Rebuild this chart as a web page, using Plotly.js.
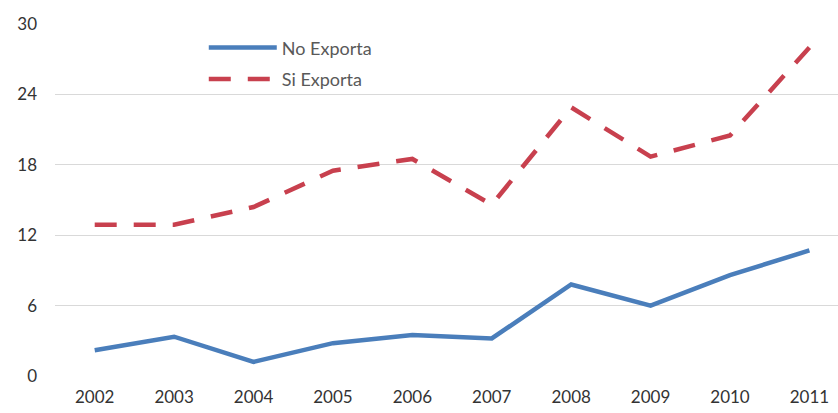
<!DOCTYPE html>
<html>
<head>
<meta charset="utf-8">
<script src="https://cdn.plot.ly/plotly-3.0.1.min.js"></script>
<style>html,body{margin:0;padding:0;background:#fff;}#chart{width:838px;height:413px;}</style>
</head>
<body>
<div id="chart"></div>
<script>
const years = ["2002","2003","2004","2005","2006","2007","2008","2009","2010","2011"];
const noExporta = [2.2, 3.35, 1.2, 2.8, 3.5, 3.2, 7.8, 6.0, 8.6, 10.7];
const siExporta = [12.9, 12.9, 14.4, 17.5, 18.5, 14.6, 22.9, 18.7, 20.5, 28.0];
const yTicks = [0, 6, 12, 18, 24, 30];

const traces = [
  {x: years, y: noExporta, name: "No Exporta", type: "scatter", mode: "lines",
   legendgroup: "a",
   line: {color: "#4A7EBB", width: 4.5}},
  {x: years, y: siExporta, name: "Si Exporta", type: "scatter", mode: "lines",
   legendgroup: "b",
   line: {color: "#C8404E", width: 4.5, dash: "22px,17px"}}
];

const layout = {
  width: 838, height: 413,
  margin: {l: 55, r: 0, t: 24, b: 37},
  paper_bgcolor: "#fff", plot_bgcolor: "#fff",
  font: {family: "Lato, 'Open Sans', sans-serif", color: "#333", size: 17},
  showlegend: true,
  legend: {x: 0.19, y: 0.985, xanchor: "left", yanchor: "top",
           font: {size: 18, color: "#595959"}, bgcolor: "rgba(0,0,0,0)",
           tracegroupgap: 5, itemwidth: 68},
  xaxis: {type: "category", range: [-0.5, 9.36], showgrid: false, zeroline: false,
          showline: false, ticks: "", ticklabelstandoff: 9,
          tickfont: {size: 17, color: "#333"}},
  yaxis: {range: [0, 30], tickvals: yTicks, ticktext: yTicks.map(String),
          showgrid: true, gridcolor: "#d9d9d9", gridwidth: 1.2, zeroline: false,
          showline: false, ticks: "", ticklabelstandoff: 17,
          tickfont: {size: 17, color: "#333"}}
};

Plotly.newPlot("chart", traces, layout, {displayModeBar: false, staticPlot: true});
</script>
</body>
</html>
